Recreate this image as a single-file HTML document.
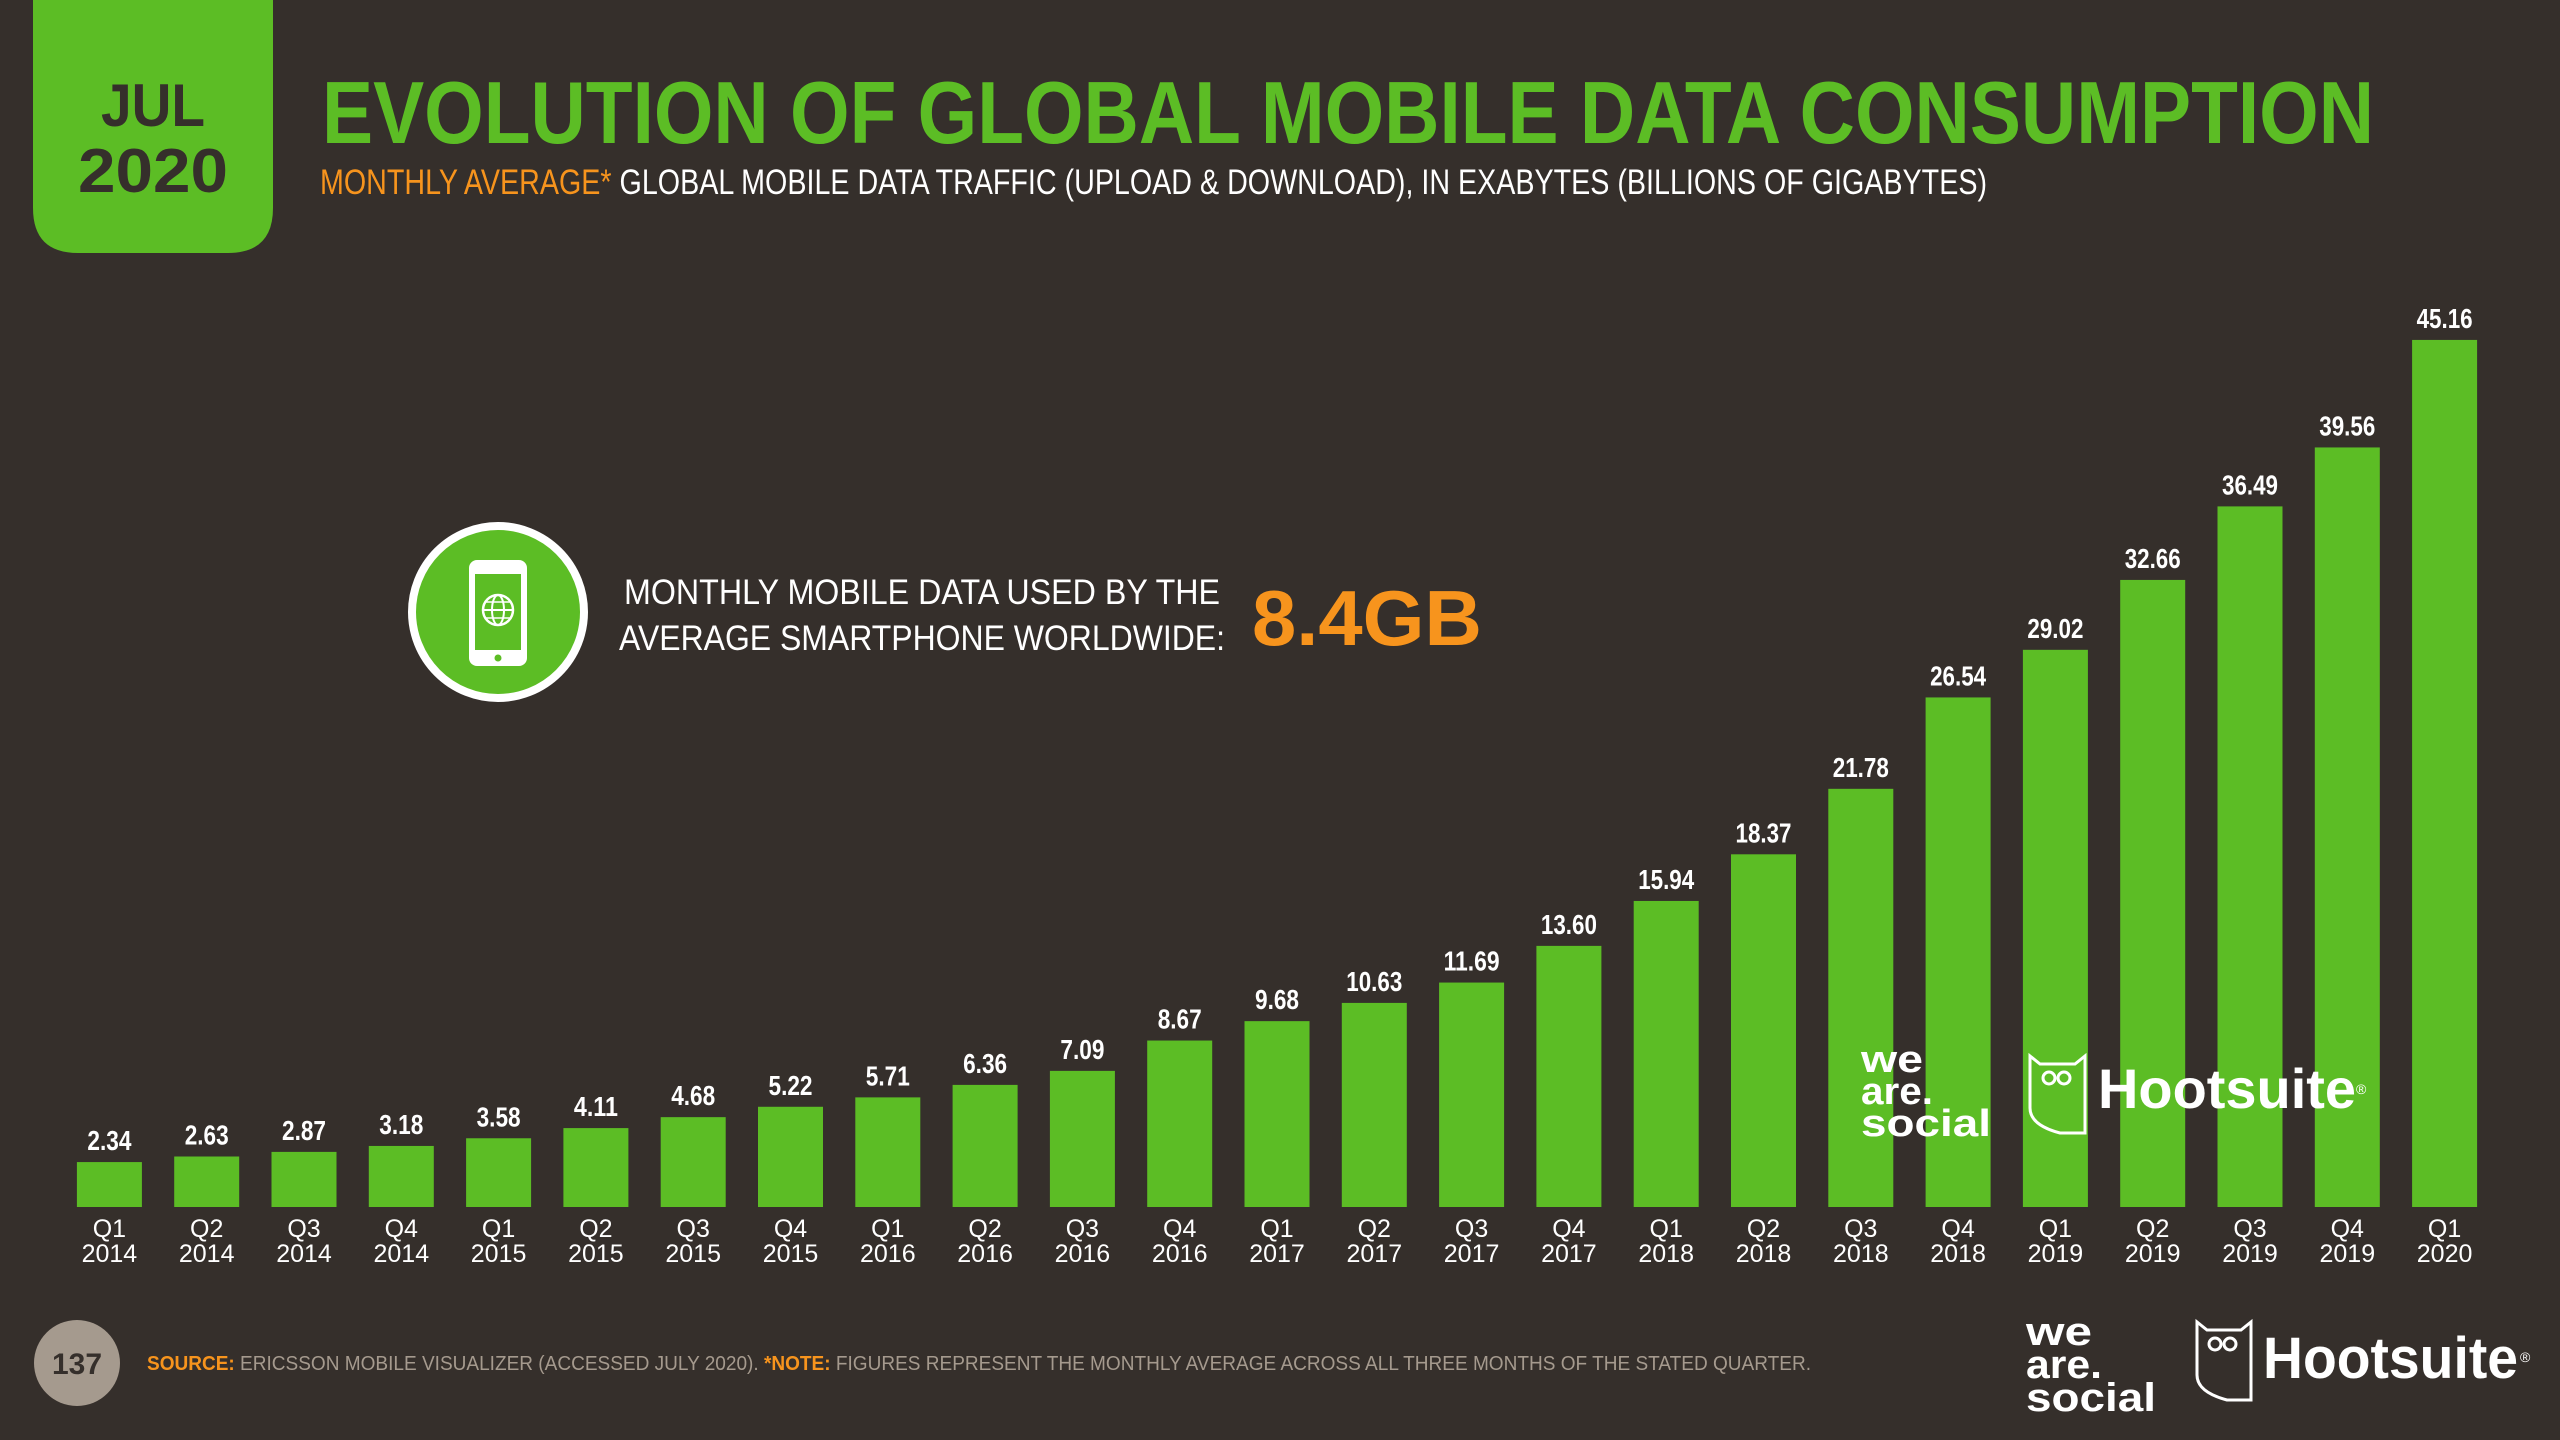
<!DOCTYPE html>
<html><head><meta charset="utf-8"><style>
html,body{margin:0;padding:0;background:#352f2b;width:2560px;height:1440px;overflow:hidden}
svg{display:block}
text{font-family:"Liberation Sans",sans-serif}
</style></head><body>
<svg id="chart" width="2560" height="1440" viewBox="0 0 2560 1440" xmlns="http://www.w3.org/2000/svg">
<rect width="2560" height="1440" fill="#352f2b"/>
<g>
<path d="M33 0 H273 V208 Q273 253 228 253 H78 Q33 253 33 208 Z" fill="#5cbd25"/>
<text x="153" y="126" text-anchor="middle" font-size="60" font-weight="bold" fill="#352f2b" textLength="104" lengthAdjust="spacingAndGlyphs">JUL</text>
<text x="153" y="192" text-anchor="middle" font-size="62" font-weight="bold" fill="#352f2b" textLength="150" lengthAdjust="spacingAndGlyphs">2020</text>
</g>
<text x="322" y="143" font-size="88" font-weight="bold" fill="#5cbd25" textLength="2052" lengthAdjust="spacingAndGlyphs">EVOLUTION OF GLOBAL MOBILE DATA CONSUMPTION</text>
<text x="320" y="194" font-size="35" fill="#ffffff" textLength="1667" lengthAdjust="spacingAndGlyphs"><tspan fill="#f7941d">MONTHLY AVERAGE*</tspan> GLOBAL MOBILE DATA TRAFFIC (UPLOAD &amp; DOWNLOAD), IN EXABYTES (BILLIONS OF GIGABYTES)</text>

<g>
<circle cx="498" cy="612" r="86" fill="#5cbd25" stroke="#ffffff" stroke-width="8"/>
<rect x="469" y="560" width="58" height="106" rx="8" fill="#ffffff"/>
<rect x="475" y="574" width="46" height="76" fill="#5cbd25"/>
<circle cx="498" cy="658" r="3.5" fill="#5cbd25"/>
<circle cx="498" cy="610" r="15" fill="none" stroke="#fff" stroke-width="2.5"/>
<ellipse cx="498" cy="610" rx="6" ry="15" fill="none" stroke="#fff" stroke-width="2"/>
<line x1="483" y1="610" x2="513" y2="610" stroke="#fff" stroke-width="2"/>
<line x1="486" y1="602" x2="510" y2="602" stroke="#fff" stroke-width="1.5"/>
<line x1="486" y1="618" x2="510" y2="618" stroke="#fff" stroke-width="1.5"/>
<text x="1220" y="604" text-anchor="end" font-size="35" fill="#ffffff" textLength="596" lengthAdjust="spacingAndGlyphs">MONTHLY MOBILE DATA USED BY THE</text>
<text x="1225" y="650" text-anchor="end" font-size="35" fill="#ffffff" textLength="606" lengthAdjust="spacingAndGlyphs">AVERAGE SMARTPHONE WORLDWIDE:</text>
<text x="1252" y="645" font-size="78" font-weight="bold" fill="#f7941d" textLength="230" lengthAdjust="spacingAndGlyphs">8.4GB</text>
</g>

<g id="bars"></g>
<g id="values"></g>
<g id="xlabels"></g>

<g>
<text x="1861" y="1072" font-size="38" font-weight="bold" fill="#fff" textLength="62" lengthAdjust="spacingAndGlyphs">we</text>
<text x="1861" y="1104" font-size="38" font-weight="bold" fill="#fff" textLength="72" lengthAdjust="spacingAndGlyphs">are.</text>
<text x="1861" y="1136" font-size="38" font-weight="bold" fill="#fff" textLength="130" lengthAdjust="spacingAndGlyphs">social</text>
<path d="M2030 1056 L2030 1108 Q2030 1125 2060 1133 L2085 1133 L2085 1056 L2075 1064 L2040 1064 Z" fill="none" stroke="#fff" stroke-width="3"/>
<circle cx="2049" cy="1078" r="6" fill="none" stroke="#fff" stroke-width="3"/><circle cx="2064" cy="1078" r="6" fill="none" stroke="#fff" stroke-width="3"/>
<text x="2098" y="1108" font-size="56" font-weight="bold" fill="#fff" textLength="258" lengthAdjust="spacingAndGlyphs">Hootsuite</text>
<text x="2356" y="1094" font-size="14" fill="#fff">®</text>
</g>

<g>
<circle cx="77" cy="1363" r="43" fill="#a59a8e"/>
<text x="77" y="1374" text-anchor="middle" font-size="30" font-weight="bold" fill="#352f2b">137</text>
<text x="147" y="1370" font-size="20" fill="#a59a8e" textLength="1664" lengthAdjust="spacingAndGlyphs"><tspan fill="#f7941d" font-weight="bold">SOURCE:</tspan> ERICSSON MOBILE VISUALIZER (ACCESSED JULY 2020). <tspan fill="#f7941d" font-weight="bold">*NOTE:</tspan> FIGURES REPRESENT THE MONTHLY AVERAGE ACROSS ALL THREE MONTHS OF THE STATED QUARTER.</text>
<text x="2026" y="1345" font-size="40" font-weight="bold" fill="#fff" textLength="66" lengthAdjust="spacingAndGlyphs">we</text>
<text x="2026" y="1378" font-size="40" font-weight="bold" fill="#fff" textLength="76" lengthAdjust="spacingAndGlyphs">are.</text>
<text x="2026" y="1411" font-size="40" font-weight="bold" fill="#fff" textLength="130" lengthAdjust="spacingAndGlyphs">social</text>
<path d="M2197 1322 L2197 1375 Q2197 1392 2227 1400 L2251 1400 L2251 1322 L2241 1330 L2207 1330 Z" fill="none" stroke="#fff" stroke-width="3"/>
<circle cx="2215" cy="1344" r="6" fill="none" stroke="#fff" stroke-width="3"/><circle cx="2230" cy="1344" r="6" fill="none" stroke="#fff" stroke-width="3"/>
<text x="2263" y="1378" font-size="58" font-weight="bold" fill="#fff" textLength="255" lengthAdjust="spacingAndGlyphs">Hootsuite</text>
<text x="2520" y="1362" font-size="14" fill="#fff">®</text>
</g>
</svg>
<script>
const quarters = ["Q1","Q2","Q3","Q4","Q1","Q2","Q3","Q4","Q1","Q2","Q3","Q4","Q1","Q2","Q3","Q4","Q1","Q2","Q3","Q4","Q1","Q2","Q3","Q4","Q1"];
const years = ["2014","2014","2014","2014","2015","2015","2015","2015","2016","2016","2016","2016","2017","2017","2017","2017","2018","2018","2018","2018","2019","2019","2019","2019","2020"];
const values = [2.34,2.63,2.87,3.18,3.58,4.11,4.68,5.22,5.71,6.36,7.09,8.67,9.68,10.63,11.69,13.60,15.94,18.37,21.78,26.54,29.02,32.66,36.49,39.56,45.16];
const valueLabels = ["2.34","2.63","2.87","3.18","3.58","4.11","4.68","5.22","5.71","6.36","7.09","8.67","9.68","10.63","11.69","13.60","15.94","18.37","21.78","26.54","29.02","32.66","36.49","39.56","45.16"];

const NS = "http://www.w3.org/2000/svg";
const baseY = 1207, pxPerUnit = 19.2, firstX = 109.4, pitch = 97.3, barW = 65;
function xScale(i){ return firstX + i*pitch; }
function yScale(v){ return baseY - v*pxPerUnit; }
const gb = document.getElementById('bars'), gv = document.getElementById('values'), gx = document.getElementById('xlabels');
values.forEach((v,i)=>{
  const cx = xScale(i);
  const r = document.createElementNS(NS,'rect');
  r.setAttribute('x', cx - barW/2); r.setAttribute('y', yScale(v));
  r.setAttribute('width', barW); r.setAttribute('height', baseY - yScale(v));
  r.setAttribute('fill', '#5cbd25');
  
  
  gb.appendChild(r);
  const t = document.createElementNS(NS,'text');
  t.setAttribute('x', cx); t.setAttribute('y', yScale(v) - 12);
  t.setAttribute('text-anchor','middle'); t.setAttribute('font-size','28');
  t.setAttribute('font-weight','bold'); t.setAttribute('fill','#ffffff');
  t.setAttribute('textLength', valueLabels[i].length > 4 ? 56 : 44);
  t.setAttribute('lengthAdjust','spacingAndGlyphs');
  t.textContent = valueLabels[i];
  
  
  gv.appendChild(t);
  const q = document.createElementNS(NS,'text');
  q.setAttribute('x', cx); q.setAttribute('y', 1237);
  q.setAttribute('text-anchor','middle'); q.setAttribute('font-size','25'); q.setAttribute('fill','#ffffff');
  q.textContent = quarters[i];
  
  
  gx.appendChild(q);
  const y = document.createElementNS(NS,'text');
  y.setAttribute('x', cx); y.setAttribute('y', 1262);
  y.setAttribute('text-anchor','middle'); y.setAttribute('font-size','25'); y.setAttribute('fill','#ffffff');
  y.textContent = years[i];
  
  
  gx.appendChild(y);
});
</script>
</body></html>
